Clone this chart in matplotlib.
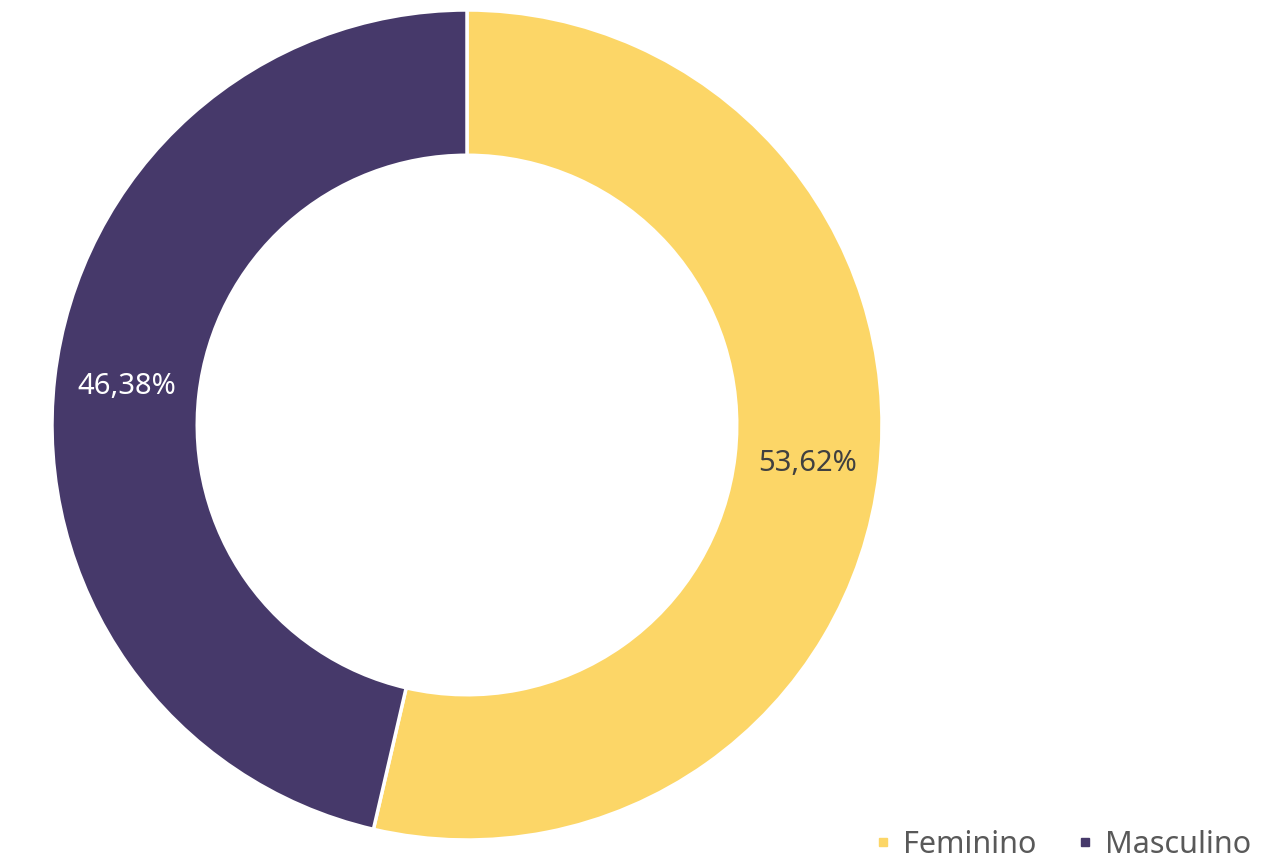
import matplotlib
matplotlib.use('Agg')
import matplotlib.pyplot as plt
from matplotlib.lines import Line2D

labels = ['Feminino', 'Masculino']
values = [53.62, 46.38]
colors = ['#FCD667', '#46396A']
text_colors = ['#404040', '#FFFFFF']

plt.rcParams['font.family'] = ['Noto Sans', 'DejaVu Sans']


def pct(v):
    return ('%.2f%%' % v).replace('.', ',')


def main():
    fig = plt.figure(figsize=(12.72, 8.68), dpi=100)
    W, H = 1272, 868
    cx, cy, r = 467, 425, 415
    ax = fig.add_axes([(cx - r) / W, (H - cy - r) / H, 2 * r / W, 2 * r / H])
    wedges, texts, autotexts = ax.pie(
        values, colors=colors, startangle=90, counterclock=False,
        radius=1, autopct=pct, pctdistance=0.825,
        wedgeprops=dict(width=0.35, edgecolor='white', linewidth=2.5),
        textprops=dict(fontsize=21))
    for t, c in zip(autotexts, text_colors):
        t.set_color(c)
    ax.set_xlim(-1, 1)
    ax.set_ylim(-1, 1)
    ax.set_aspect('auto')
    ax.axis('off')

    handles = [Line2D([], [], marker='s', linestyle='none', markersize=6,
                      color=c) for c in colors]
    fig.legend(handles, labels, loc='center right', ncol=2, frameon=False,
               bbox_to_anchor=(1.005, 1 - 845 / H), fontsize=22,
               labelcolor='#595959', handletextpad=0.35, columnspacing=1.3,
               handlelength=0.6)
    fig.savefig('out.png', dpi=100, facecolor='white')


if __name__ == '__main__':
    main()
